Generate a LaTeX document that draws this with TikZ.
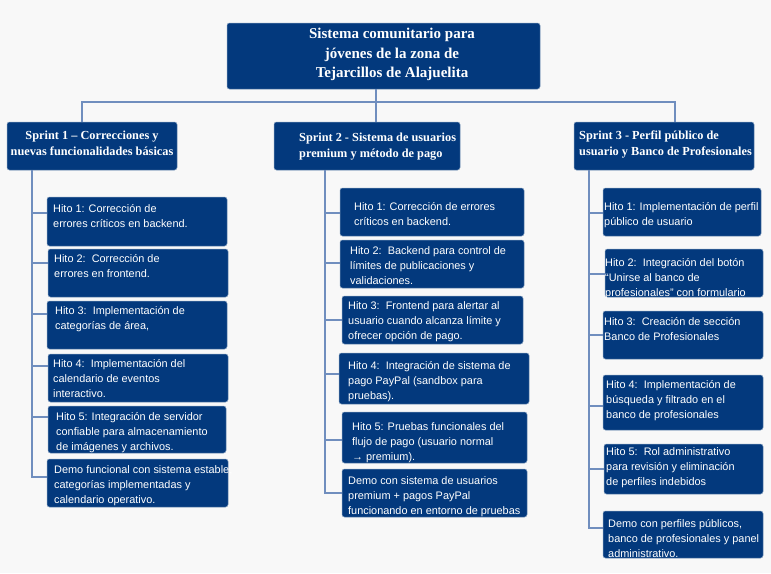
\documentclass[tikz,border=0pt]{standalone}
\usepackage{fontspec}
\setmainfont{Liberation Serif}
\newfontfamily\hitofont{Liberation Sans}
\usetikzlibrary{fit}
\definecolor{bg}{RGB}{248,248,248}
\definecolor{navy}{RGB}{3,57,125}
\definecolor{wirec}{RGB}{112,142,190}
\newcommand{\milestone}[8]{%
  \node[box, fit={(#2,#3) (#4,#5)}] (#1) {};
  \node[htext] (#1t) at (#6,#7) {#8};
}
\begin{document}
\begin{tikzpicture}[x=1pt,y=-1pt,
  box/.style={fill=navy, draw=navy!55!white, line width=0.5pt, rounded corners=2.5pt, inner sep=0pt, outer sep=0pt},
  htext/.style={anchor=north west, inner sep=0pt, text=white, font=\hitofont\fontsize{10.9}{15}\selectfont, align=left},
  stext/.style={inner sep=0pt, text=white, font=\bfseries\fontsize{12.3}{16}\selectfont},
  ttext/.style={inner sep=0pt, text=white, font=\bfseries\fontsize{15}{19.5}\selectfont, align=center, anchor=north},
  wire/.style={draw=wirec, line width=1.3pt}]
\path[fill=bg] (0,0) rectangle (771,573);

% title
\node[box, fit={(227,23) (540,89)}] (top) {};
\node[ttext] (topt) at (392,28) {Sistema comunitario para\\jóvenes de la zona de\\Tejarcillos de Alajuelita};

% sprints
\node[box, fit={(7,122) (177,170)}] (sp1) {};
\node[stext, anchor=north, align=center] (sp1t) at (92,130.5) {Sprint 1 – Correcciones y\\nuevas funcionalidades básicas};
\node[box, fit={(274,122) (460,170)}] (sp2) {};
\node[stext, anchor=north west, align=left] (sp2t) at (299,132.5) {Sprint 2 - Sistema de usuarios\\premium y método de pago};
\node[box, fit={(574,122) (754,170)}] (sp3) {};
\node[stext, anchor=north west, align=left] (sp3t) at (579,130.5) {Sprint 3 - Perfil público de\\usuario y Banco de Profesionales};

% top connectors
\coordinate (j0) at (376,102);
\coordinate (j1) at (82,102);
\coordinate (j3) at (675,102);
\draw[wire] (j0 |- top.south) -- (j0 |- sp2.north);
\draw[wire] (j1 |- sp1.north) -- (j1) -- (j3) -- (j3 |- sp3.north);

% sprint 1
\milestone{a1}{47}{197}{227}{246}{53}{204}{Hito 1: Corrección de\\errores críticos en backend.}
\milestone{a2}{48}{249}{228}{297}{54}{254}{Hito 2:\ \ Corrección de\\errores en frontend.}
\milestone{a3}{47}{301}{227}{349}{55}{306}{Hito 3:\ \ Implementación de\\categorías de área,}
\milestone{a4}{48}{354}{228}{402}{53}{359}{Hito 4:\ \ Implementación del\\calendario de eventos\\interactivo.}
\milestone{a5}{48}{406}{226}{453}{56}{412}{Hito 5: Integración de servidor\\confiable para almacenamiento\\de imágenes y archivos.}
\milestone{a6}{47}{459}{228}{507}{54}{465}{Demo funcional con sistema estable,\\categorías implementadas y\\calendario operativo.}
\coordinate (ta1) at (32,213);
\coordinate (ta2) at (32,263);
\coordinate (ta3) at (32,314);
\coordinate (ta4) at (32,366);
\coordinate (ta5) at (32,417);
\coordinate (ta6) at (32,477);
\draw[wire] (ta1 |- sp1.south) -- (ta6) -- (ta6 -| a6.west);
\foreach \i in {1,...,5} \draw[wire] (ta\i) -- (ta\i -| a\i.west);

% sprint 2
\milestone{b1}{340}{188}{524}{236}{354}{202}{Hito 1: Corrección de errores\\críticos en backend.}
\milestone{b2}{340}{240}{524}{288}{350}{246}{Hito 2:\ \ Backend para control de\\límites de publicaciones y\\validaciones.}
\milestone{b3}{342}{296}{523}{344}{348}{301}{Hito 3:\ \ Frontend para alertar al\\usuario cuando alcanza límite y\\ofrecer opción de pago.}
\milestone{b4}{339}{353}{529}{404}{348}{361}{Hito 4:\ \ Integración de sistema de\\pago PayPal (sandbox para\\pruebas).}
\milestone{b5}{342}{412}{527}{463}{352}{422}{Hito 5: Pruebas funcionales del\\flujo de pago (usuario normal\\→ premium).}
\milestone{b6}{342}{469}{527}{517}{348}{476}{Demo con sistema de usuarios\\premium + pagos PayPal\\funcionando en entorno de pruebas}
\coordinate (tb1) at (325,213);
\coordinate (tb2) at (325,263);
\coordinate (tb3) at (325,320);
\coordinate (tb4) at (325,374);
\coordinate (tb5) at (325,440);
\coordinate (tb6) at (325,493);
\draw[wire] (tb1 |- sp2.south) -- (tb6) -- (tb6 -| b6.west);
\foreach \i in {1,...,5} \draw[wire] (tb\i) -- (tb\i -| b\i.west);

% sprint 3
\milestone{c1}{603}{188}{761}{236}{604}{202}{Hito 1: Implementación de perfil\\público de usuario}
\milestone{c2}{605}{249}{763}{297}{605}{258}{Hito 2:\ \ Integración del botón\\“Unirse al banco de\\profesionales” con formulario}
\milestone{c3}{603}{311}{763}{359}{604}{317}{Hito 3:\ \ Creación de sección\\Banco de Profesionales}
\milestone{c4}{603}{375}{763}{430}{606}{380}{Hito 4:\ \ Implementación de\\búsqueda y filtrado en el\\banco de profesionales}
\milestone{c5}{604}{444}{763}{494}{606}{447}{Hito 5:\ \ Rol administrativo\\para revisión y eliminación\\de perfiles indebidos}
\milestone{c6}{603}{511}{763}{558}{608}{519}{Demo con perfiles públicos,\\banco de profesionales y panel\\administrativo.}
\coordinate (tc1) at (589,213);
\coordinate (tc2) at (589,274);
\coordinate (tc3) at (589,335);
\coordinate (tc4) at (589,406);
\coordinate (tc5) at (589,469);
\coordinate (tc6) at (589,528);
\draw[wire] (tc1 |- sp3.south) -- (tc6) -- (tc6 -| c6.west);
\foreach \i in {1,...,5} \draw[wire] (tc\i) -- (tc\i -| c\i.west);
\end{tikzpicture}
\end{document}
